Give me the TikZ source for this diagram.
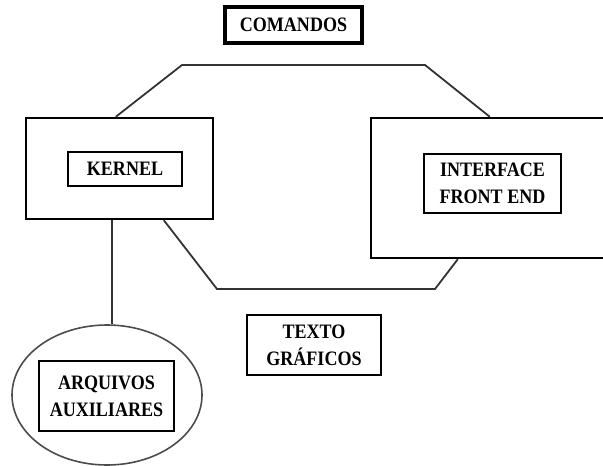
\documentclass[tikz,border=0pt]{standalone}
\usepackage{fontspec}
\setmainfont{Liberation Serif}[FakeStretch=0.88]
\usetikzlibrary{shapes.geometric}

\begin{document}
\begin{tikzpicture}[x=1pt, y=-1pt,
  every node/.style={font=\bfseries\fontsize{20.5}{27}\selectfont, align=center, inner sep=0pt},
  blk/.style={draw, line width=2.6pt, minimum width=#1},
  frm/.style={draw, line width=2.4pt},
  lnk/.style={draw=black!80, line width=1.8pt}]
\useasboundingbox (0,0) rectangle (603,466);
\clip (0,0) rectangle (603,466);
% outer frames
\node[frm, minimum width=187pt, minimum height=101pt] (kout) at (119.5,168.5) {};
\node[frm, minimum width=300pt, minimum height=140pt] (iout) at (521,188) {};
\node[ellipse, draw=black!70, line width=1.6pt, minimum width=190pt, minimum height=140pt] (aout) at (107,395) {};
% labelled boxes
\node[blk=137pt, minimum height=36pt, line width=3.2pt] (cmd) at (293.5,25) {COMANDOS};
\node[blk=114pt, minimum height=34pt] (kernel) at (125,169) {KERNEL};
\node[blk=137pt, minimum height=59pt] (iface) at (492.5,183.5) {INTERFACE\\FRONT END};
\node[blk=134pt, minimum height=60pt] (texto) at (314,345) {TEXTO\\GRÁFICOS};
\node[blk=135pt, minimum height=70pt] (arq) at (106.5,396) {ARQUIVOS\\AUXILIARES};
% connectors
\coordinate (kfoot) at ([xshift=87pt]kout.south west);
\draw[lnk] ([xshift=91pt]kout.north west) -- (182,65) -- (425,65) -- ([xshift=120pt]iout.north west);
\draw[lnk] ([xshift=139pt]kout.south west) -- (217,289) -- (435,289) -- ([xshift=88pt]iout.south west);
\draw[lnk] (kfoot) -- (kfoot |- aout.north);
\end{tikzpicture}
\end{document}
